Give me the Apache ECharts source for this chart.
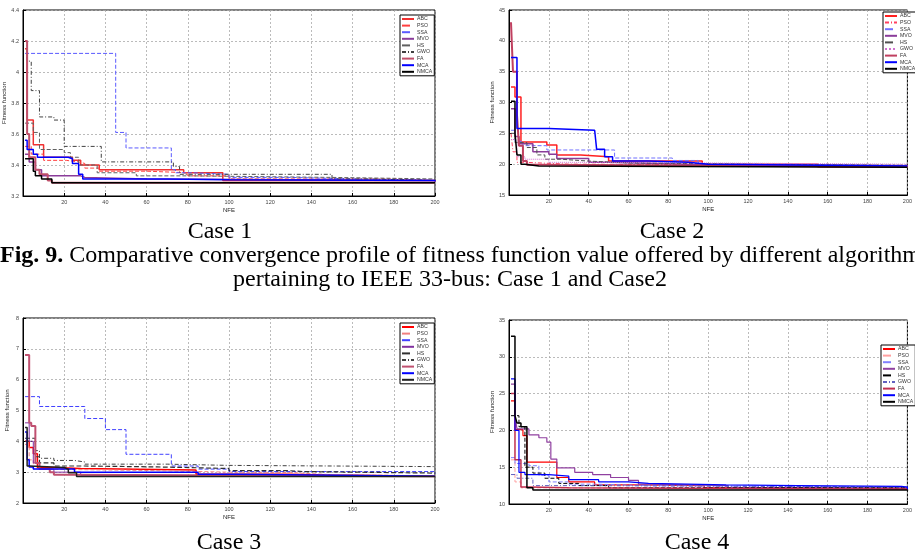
<!DOCTYPE html>
<html>
<head>
<meta charset="utf-8">
<script src="https://cdn.jsdelivr.net/npm/echarts@6/dist/echarts.min.js"></script>
<style>
	html, body {margin: 0; padding: 0; background: #fff}
	#chart {width: 915px; height: 557px}
</style>
</head>
<body>
<div id="chart"></div>
<script>
// 算法名称
const algorithms = ["ABC", "PSO", "SSA", "MVO", "HS", "GWO", "FA", "MCA", "NMCA"]

// Case 1: [NFE, fitness]
const case1ABC = [[1, 4.15], [2, 3.69], [5, 3.53], [10, 3.45], [24, 3.43], [28, 3.40], [37, 3.37], [78, 3.35], [97, 3.30], [200, 3.295]]
const case1PSO = [[1, 3.52], [4, 3.47], [10, 3.43], [21, 3.42], [27, 3.41], [30, 3.38], [37, 3.36], [60, 3.35], [80, 3.33], [100, 3.31], [180, 3.30], [200, 3.30]]
const case1SSA = [[1, 4.12], [45, 3.61], [50, 3.51], [72, 3.37], [74, 3.35], [82, 3.34], [100, 3.32], [130, 3.31], [160, 3.30], [200, 3.30]]
const case1MVO = [[1, 3.47], [3, 3.42], [6, 3.37], [9, 3.33], [28, 3.32], [30, 3.31], [60, 3.30], [200, 3.29]]
const case1HS = [[1, 3.67], [5, 3.61], [8, 3.50], [20, 3.48], [23, 3.45], [27, 3.40], [36, 3.35], [55, 3.33], [80, 3.32], [150, 3.31], [200, 3.30]]
const case1GWO = [[1, 4.2], [2, 4.07], [4, 3.88], [8, 3.71], [15, 3.69], [20, 3.52], [38, 3.42], [73, 3.39], [76, 3.34], [150, 3.31], [170, 3.30], [200, 3.30]]
const case1FA = [[1, 4.2], [2, 3.6], [3, 3.45], [6, 3.37], [8, 3.34], [12, 3.30], [14, 3.285], [200, 3.285]]
const case1MCA = [[1, 3.56], [2, 3.50], [5, 3.47], [7, 3.45], [22, 3.44], [24, 3.41], [27, 3.34], [29, 3.31], [70, 3.305], [100, 3.30], [200, 3.295]]
const case1NMCA = [[1, 3.44], [5, 3.36], [6, 3.33], [9, 3.31], [14, 3.285], [200, 3.284]]

// Case 2
const case2ABC = [[1, 32.5], [3, 30.9], [6, 23.6], [19, 23.1], [24, 21.5], [36, 21.2], [50, 20.5], [97, 20.0], [155, 19.6], [200, 19.6]]
const case2PSO = [[1, 25], [2, 22], [4, 20.3], [8, 20.0], [30, 19.8], [200, 19.6]]
const case2SSA = [[1, 25.5], [3, 23.7], [7, 23.0], [19, 22.3], [53, 21.0], [82, 20.6], [95, 20.0], [140, 19.8], [200, 19.7]]
const case2MVO = [[1, 29], [3, 24.5], [5, 23.3], [12, 22.0], [20, 21.6], [24, 20.9], [40, 20.3], [50, 20.0], [90, 19.7], [200, 19.6]]
const case2HS = [[1, 25], [3, 23.5], [9, 22.7], [14, 21.5], [18, 20.8], [26, 20.5], [40, 20.2], [60, 20.0], [120, 19.8], [200, 19.7]]
const case2GWO = [[1, 24], [4, 21.2], [8, 20.8], [20, 20.3], [45, 20.0], [200, 19.8]]
const case2FA = [[1, 43], [2, 35], [4, 28], [5, 23], [7, 20.5], [9, 19.9], [15, 19.6], [200, 19.5]]
const case2MCA = [[1, 37.3], [4, 25.8], [20, 25.5], [43, 25.3], [44, 22.4], [48, 21.2], [52, 20.5], [70, 20.3], [90, 20.0], [100, 19.7], [200, 19.6]]
const case2NMCA = [[1, 30.2], [3, 25.0], [4, 21.5], [6, 20.0], [8, 19.7], [15, 19.5], [200, 19.45]]

// Case 3
const case3ABC = [[1, 4.0], [3, 3.8], [5, 3.6], [7, 3.15], [15, 3.12], [28, 3.07], [84, 2.93], [129, 2.91], [149, 2.87], [200, 2.87]]
const case3PSO = [[1, 3.9], [3, 3.4], [5, 3.1], [10, 3.08], [30, 3.05], [65, 3.0], [100, 2.99], [130, 2.96], [137, 2.92], [150, 2.88], [200, 2.87]]
const case3SSA = [[1, 5.45], [8, 5.13], [30, 4.74], [40, 4.38], [50, 3.58], [72, 3.2], [85, 3.1], [100, 3.02], [200, 2.96]]
const case3MVO = [[1, 4.6], [3, 4.0], [5, 3.3], [8, 3.1], [15, 3.0], [28, 2.9], [40, 2.87], [200, 2.86]]
const case3HS = [[1, 4.1], [6, 3.5], [8, 3.3], [15, 3.2], [30, 3.17], [65, 3.12], [100, 3.05], [129, 3.02], [136, 2.97], [200, 2.95]]
const case3GWO = [[1, 4.0], [6, 3.7], [8, 3.45], [15, 3.38], [25, 3.33], [30, 3.26], [70, 3.22], [100, 3.18], [200, 3.17]]
const case3FA = [[1, 6.8], [3, 4.6], [4, 4.5], [6, 3.3], [8, 3.1], [13, 3.0], [15, 2.92], [22, 2.87], [200, 2.86]]
const case3MCA = [[1, 4.3], [2, 3.4], [3, 3.17], [5, 3.1], [25, 3.0], [85, 2.93], [104, 2.87], [200, 2.87]]
const case3NMCA = [[1, 4.45], [2, 3.2], [3, 3.15], [20, 3.1], [22, 2.98], [26, 2.86], [200, 2.85]]

// Case 4
const case4ABC = [[1, 24], [3, 20.1], [7, 19.3], [9, 15.7], [24, 13.6], [30, 13.0], [43, 12.6], [63, 12.5], [98, 12.2], [150, 12.1], [200, 12.0]]
const case4PSO = [[1, 16], [3, 13], [6, 12.2], [20, 12.0], [200, 11.9]]
const case4SSA = [[1, 16.3], [3, 15.5], [10, 15.2], [15, 13.9], [20, 13.0], [30, 12.7], [43, 12.5], [70, 12.3], [200, 12.2]]
const case4MVO = [[1, 26.3], [3, 22], [4, 20.2], [10, 19.4], [15, 19.0], [19, 18.4], [21, 16.1], [24, 14.9], [33, 14.3], [42, 14.0], [51, 13.6], [60, 13.2], [65, 12.7], [70, 12.5], [110, 12.2], [200, 12.0]]
const case4HS = [[1, 22], [5, 20.5], [8, 15], [12, 14.2], [18, 13.5], [25, 12.8], [35, 12.5], [50, 12.2], [200, 12.1]]
const case4GWO = [[1, 14], [4, 13.5], [12, 12.5], [40, 12.3], [200, 12.1]]
const case4FA = [[1, 25], [3, 16], [6, 12.3], [10, 12.2], [30, 12.0], [200, 11.9]]
const case4MCA = [[1, 27], [3, 20], [5, 14.3], [8, 14.0], [20, 13.8], [30, 13.3], [45, 13.0], [60, 12.8], [70, 12.6], [109, 12.5], [145, 12.4], [197, 12.3], [200, 12.0]]
const case4NMCA = [[1, 32.8], [3, 22], [4, 21], [6, 20.5], [9, 12.2], [12, 11.9], [200, 11.8]]

const case1Data = [case1ABC, case1PSO, case1SSA, case1MVO, case1HS, case1GWO, case1FA, case1MCA, case1NMCA]
const case2Data = [case2ABC, case2PSO, case2SSA, case2MVO, case2HS, case2GWO, case2FA, case2MCA, case2NMCA]
const case3Data = [case3ABC, case3PSO, case3SSA, case3MVO, case3HS, case3GWO, case3FA, case3MCA, case3NMCA]
const case4Data = [case4ABC, case4PSO, case4SSA, case4MVO, case4HS, case4GWO, case4FA, case4MCA, case4NMCA]

// 线型: [颜色, 类型, 宽度]
const dashDot = [4, 2, 1, 2]
const case1Styles = [["#f03030", "solid", 1.5], ["#ff4040", "dashed", 1], ["#5a5aff", "dashed", 1], ["#8a3c9a", "solid", 1.5], ["#606060", "dashed", 1], ["#404040", dashDot, 1], ["#c0506a", "solid", 2], ["#0000ff", "solid", 1.5], ["#000000", "solid", 1.5]]
const case2Styles = [["#ff2020", "solid", 1.5], ["#ff4060", dashDot, 1], ["#7070ff", "dashed", 1], ["#8a3c9a", "solid", 1.5], ["#505050", "dashed", 1], ["#d070d0", "dotted", 1], ["#c04060", "solid", 2], ["#0000ff", "solid", 1.5], ["#000000", "solid", 1.5]]
const case3Styles = [["#ff0000", "solid", 1.5], ["#f08080", "dashed", 1], ["#4040ff", "dashed", 1], ["#8030a0", "solid", 1], ["#303030", "dashed", 1.2], ["#404040", dashDot, 1], ["#c05070", "solid", 2], ["#0000ff", "solid", 1.5], ["#202020", "solid", 1.5]]
const case4Styles = [["#ff0000", "solid", 1.2], ["#ffa0a0", "dashed", 1], ["#8080ff", "dashed", 1], ["#9040a0", "solid", 1.2], ["#000000", "dashed", 1], ["#6060c0", dashDot, 1], ["#c03050", "solid", 1.5], ["#0000ff", "solid", 1.2], ["#000000", "solid", 1.5]]

const panels = [
	{data: case1Data, styles: case1Styles, grid: {left: 23, top: 10, width: 412, height: 186}, y: [3.2, 4.4, 0.2], legend: {left: 400, top: 15}},
	{data: case2Data, styles: case2Styles, grid: {left: 509, top: 10, width: 412, height: 185}, y: [15, 45, 5], legend: {left: 883, top: 12}},
	{data: case3Data, styles: case3Styles, grid: {left: 23, top: 318, width: 412, height: 185}, y: [2, 8, 1], legend: {left: 400, top: 323}},
	{data: case4Data, styles: case4Styles, grid: {left: 509, top: 320, width: 412, height: 184}, y: [10, 35, 5], legend: {left: 881, top: 345}}
]

const labelFont = "Liberation Sans"
const serif = "Liberation Serif"

let grids = [], xAxes = [], yAxes = [], legends = [], series = []
panels.forEach(function (p, i) {
	grids.push(Object.assign({show: true, borderColor: "#000", borderWidth: 1, backgroundColor: "#fff"}, p.grid))
	xAxes.push({
		gridIndex: i, type: "value", min: 0, max: 200, interval: 20,
		name: "NFE", nameLocation: "middle", nameGap: 11,
		nameTextStyle: {fontSize: 6, fontFamily: labelFont, color: "#222"},
		axisLine: {lineStyle: {color: "#000"}},
		axisTick: {inside: true, length: 3, lineStyle: {color: "#000"}},
		axisLabel: {fontSize: 5.5, fontFamily: labelFont, color: "#444", margin: 3, formatter: function (v) {
			return v === 0 ? "" : v
		}},
		splitLine: {show: true, lineStyle: {color: "#aaa", type: [2, 2], width: 0.8}}
	})
	yAxes.push({
		gridIndex: i, type: "value", min: p.y[0], max: p.y[1], interval: p.y[2],
		name: "Fitness function", nameLocation: "middle", nameGap: 13,
		nameTextStyle: {fontSize: 6, fontFamily: labelFont, color: "#222"},
		axisLine: {lineStyle: {color: "#000"}},
		axisTick: {inside: true, length: 3, lineStyle: {color: "#000"}},
		axisLabel: {fontSize: 5.5, fontFamily: labelFont, color: "#444", margin: 4},
		splitLine: {show: true, lineStyle: {color: "#aaa", type: [2, 2], width: 0.8}}
	})
	let names = []
	algorithms.forEach(function (algo, k) {
		let name = algo + "#" + (i + 1)
		names.push(name)
		let s = p.styles[k]
		series.push({
			type: "line", name: name, xAxisIndex: i, yAxisIndex: i,
			data: p.data[k], step: "end", symbol: "none", showSymbol: false,
			lineStyle: {color: s[0], type: s[1], width: s[2]},
			itemStyle: {color: s[0]},
			z: 2 + k
		})
	})
	legends.push({
		data: names, orient: "vertical", left: p.legend.left, top: p.legend.top,
		itemWidth: 12, itemHeight: 6, itemGap: 0.6, padding: [1, 2, 1, 1],
		backgroundColor: "#fff", borderColor: "#000", borderWidth: 1,
		selectedMode: false,
		itemStyle: {opacity: 0},
		formatter: function (name) {
			return name.split("#")[0]
		},
		textStyle: {fontSize: 5.2, lineHeight: 6, fontFamily: labelFont, color: "#333", padding: [0, 0, 0, -2]}
	})
})

function caption(text, x, y, extra) {
	return {
		type: "text", x: x, y: y, silent: true,
		style: Object.assign({text: text, fontSize: 24, fontFamily: serif, fill: "#000", align: "center", verticalAlign: "middle"}, extra || {})
	}
}

let chart = echarts.init(document.getElementById("chart"))
chart.setOption({
	animation: false,
	backgroundColor: "#fff",
	grid: grids,
	xAxis: xAxes,
	yAxis: yAxes,
	legend: legends,
	series: series,
	graphic: [
		caption("Case 1", 220, 232),
		caption("Case 2", 672, 232),
		caption("{b|Fig. 9.} Comparative convergence profile of fitness function value offered by different algorithms", 0, 256, {
			align: "left",
			rich: {b: {fontWeight: "bold", fontSize: 24, fontFamily: serif}}
		}),
		caption("pertaining to IEEE 33-bus: Case 1 and Case2", 450, 280),
		caption("Case 3", 229, 543),
		caption("Case 4", 697, 543)
	]
})
</script>
</body>
</html>
